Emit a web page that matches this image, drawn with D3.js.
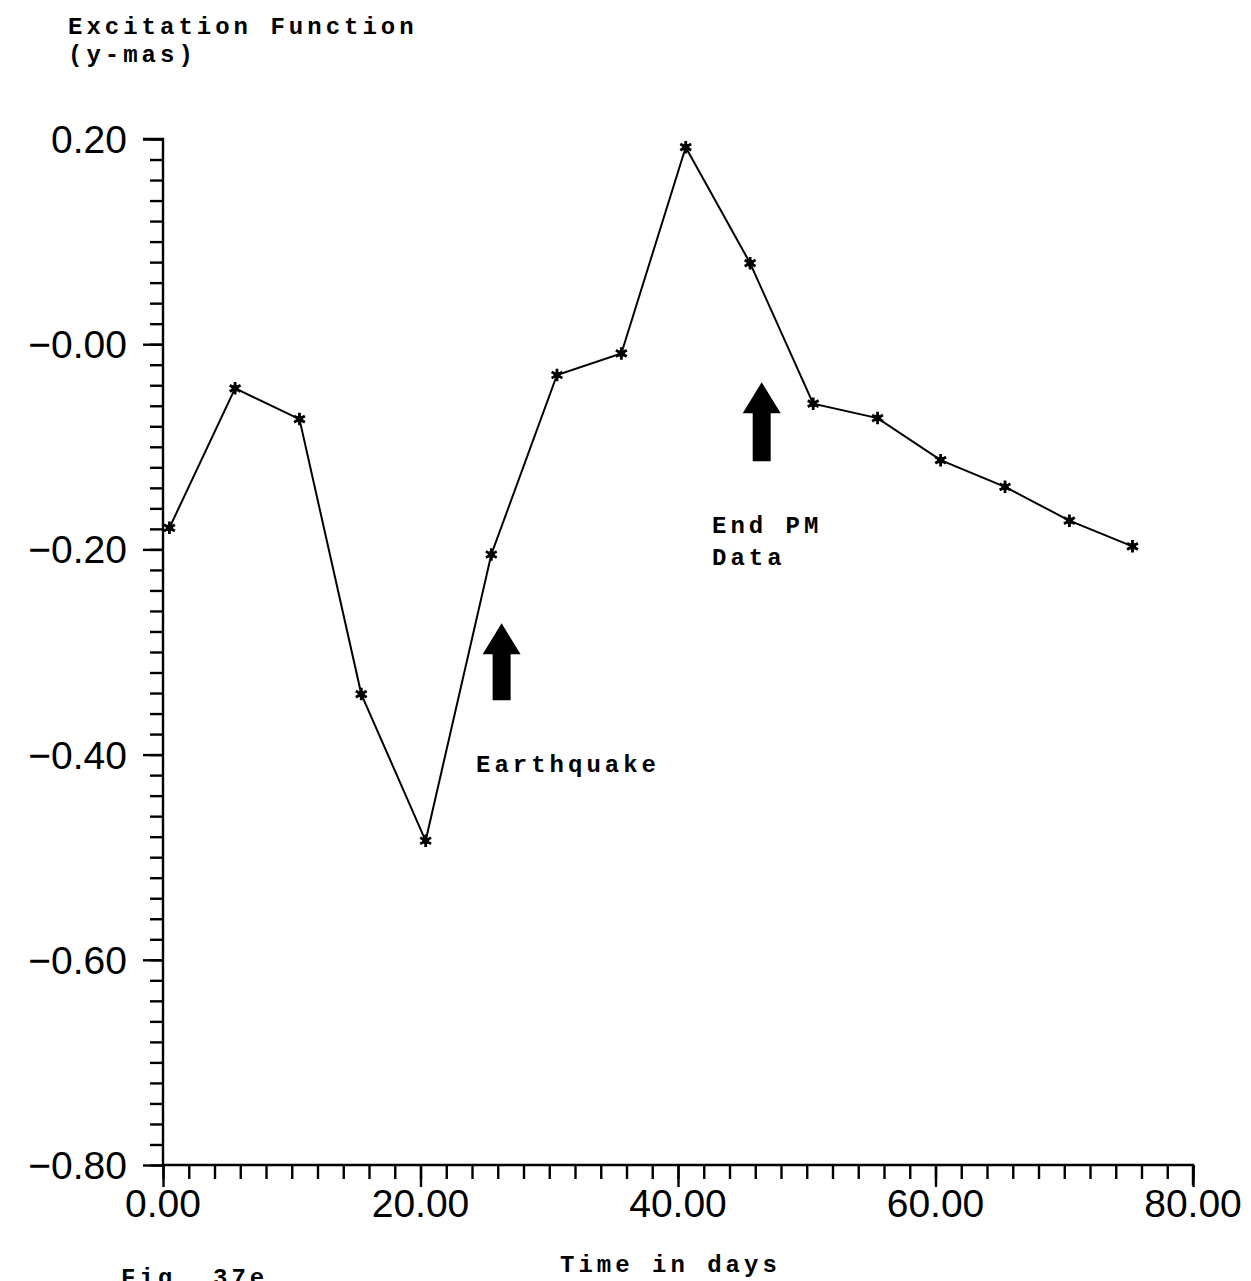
<!DOCTYPE html>
<html>
<head>
<meta charset="utf-8">
<style>
body { margin: 0; padding: 0; background: white; overflow: hidden; }
.tick-label { font-family: "Liberation Sans", Arial, sans-serif; font-size: 39px; fill: black; }
.note { font-family: "Liberation Mono", "Courier New", monospace; font-weight: bold; font-size: 24px; letter-spacing: 4px; fill: black; }
</style>
</head>
<body>
<script src="https://d3js.org/d3.v7.min.js"></script>
<script>
// data
var days = [0.5, 5.6, 10.6, 15.4, 20.4, 25.5, 30.6, 35.6, 40.6, 45.6, 50.5, 55.5, 60.4, 65.4, 70.4, 75.3];
var excitation = [-0.179, -0.043, -0.073, -0.341, -0.484, -0.205, -0.030, -0.009, 0.192, 0.079, -0.058, -0.072, -0.113, -0.139, -0.172, -0.197];

var xMajorTicks = [0, 20, 40, 60, 80];
var yMajorTicks = [0.2, 0, -0.2, -0.4, -0.6, -0.8];
var xTickLabels = ["0.00", "20.00", "40.00", "60.00", "80.00"];
var yTickLabels = ["0.20", "\u22120.00", "\u22120.20", "\u22120.40", "\u22120.60", "\u22120.80"];

// arrows: day, tip value, tail value
var arrows = [
    { day: 26.3, tip: -0.272, tail: -0.347 },
    { day: 46.5, tip: -0.037, tail: -0.114 }
];

var W = 1251, H = 1281;

var x = d3.scaleLinear().domain([0, 80]).range([163, 1193]);
var y = d3.scaleLinear().domain([-0.8, 0.2]).range([1165, 139]);

var svg = d3.select("body").append("svg")
    .attr("width", W)
    .attr("height", H)
    .style("background", "white");

// minor ticks every 2 days / 0.02
var xMinor = d3.range(0, 80.001, 2);
var yMinor = d3.range(-0.8, 0.2001, 0.02);

// y axis
svg.append("g")
    .attr("transform", "translate(" + x(0) + ",0)")
    .call(d3.axisLeft(y).tickValues(yMinor).tickSize(13).tickFormat(""))
    .call(g => g.selectAll("line, path").attr("stroke", "black").attr("stroke-width", 2.4))
    .call(g => g.select(".domain").attr("d", "M-20," + y(0.2) + "H0V" + y(-0.8)));

svg.append("g")
    .attr("transform", "translate(" + x(0) + ",0)")
    .call(d3.axisLeft(y).tickValues(yMajorTicks).tickSize(20).tickFormat(""))
    .call(g => g.selectAll("line").attr("stroke", "black").attr("stroke-width", 2.4))
    .call(g => g.select(".domain").remove());

// x axis
svg.append("g")
    .attr("transform", "translate(0," + y(-0.8) + ")")
    .call(d3.axisBottom(x).tickValues(xMinor).tickSize(14).tickFormat(""))
    .call(g => g.selectAll("line, path").attr("stroke", "black").attr("stroke-width", 2.4))
    .call(g => g.select(".domain").attr("d", "M" + x(0) + ",0H" + x(80) + "V20"));

svg.append("g")
    .attr("transform", "translate(0," + y(-0.8) + ")")
    .call(d3.axisBottom(x).tickValues(xMajorTicks).tickSize(22).tickFormat(""))
    .call(g => g.selectAll("line").attr("stroke", "black").attr("stroke-width", 2.4))
    .call(g => g.select(".domain").remove());

// tick labels
svg.selectAll(".ylab")
    .data(yMajorTicks)
    .enter().append("text")
    .attr("class", "tick-label")
    .attr("x", x(0) - 36)
    .attr("y", d => y(d))
    .attr("dy", "0.36em")
    .attr("text-anchor", "end")
    .text((d, i) => yTickLabels[i]);

svg.selectAll(".xlab")
    .data(xMajorTicks)
    .enter().append("text")
    .attr("class", "tick-label")
    .attr("x", d => x(d))
    .attr("y", y(-0.8) + 52)
    .attr("text-anchor", "middle")
    .text((d, i) => xTickLabels[i]);

// series
var pts = days.map((d, i) => [d, excitation[i]]);

svg.append("path")
    .datum(pts)
    .attr("fill", "none")
    .attr("stroke", "black")
    .attr("stroke-width", 2)
    .attr("d", d3.line().x(d => x(d[0])).y(d => y(d[1])));

var star = d3.symbol(d3.symbolAsterisk).size(110);
svg.selectAll(".pt")
    .data(pts)
    .enter().append("g")
    .attr("transform", d => "translate(" + x(d[0]) + "," + y(d[1]) + ")")
    .each(function() {
        d3.select(this).append("path")
            .attr("d", star())
            .attr("fill", "none")
            .attr("stroke", "black")
            .attr("stroke-width", 2.8);
        d3.select(this).append("circle")
            .attr("r", 3.5)
            .attr("fill", "black");
    });

// arrows
svg.selectAll(".arrow")
    .data(arrows)
    .enter().append("path")
    .attr("fill", "black")
    .attr("d", function(d) {
        var cx = x(d.day), t = y(d.tip), b = y(d.tail);
        var hb = t + 31;
        return "M" + cx + "," + t +
            "L" + (cx + 19) + "," + hb +
            "L" + (cx + 9) + "," + hb +
            "L" + (cx + 9) + "," + b +
            "L" + (cx - 9) + "," + b +
            "L" + (cx - 9) + "," + hb +
            "L" + (cx - 19) + "," + hb + "Z";
    });

// texts
function note(tx, ty, s) {
    svg.append("text").attr("class", "note").attr("x", tx).attr("y", ty).text(s);
}
note(68, 34, "Excitation Function");
note(68, 62, "(y-mas)");
note(476, 772, "Earthquake");
note(712, 533, "End PM");
note(712, 565, "Data");
note(560, 1272, "Time in days");
note(121, 1285, "Fig. 37e");
</script>
</body>
</html>
